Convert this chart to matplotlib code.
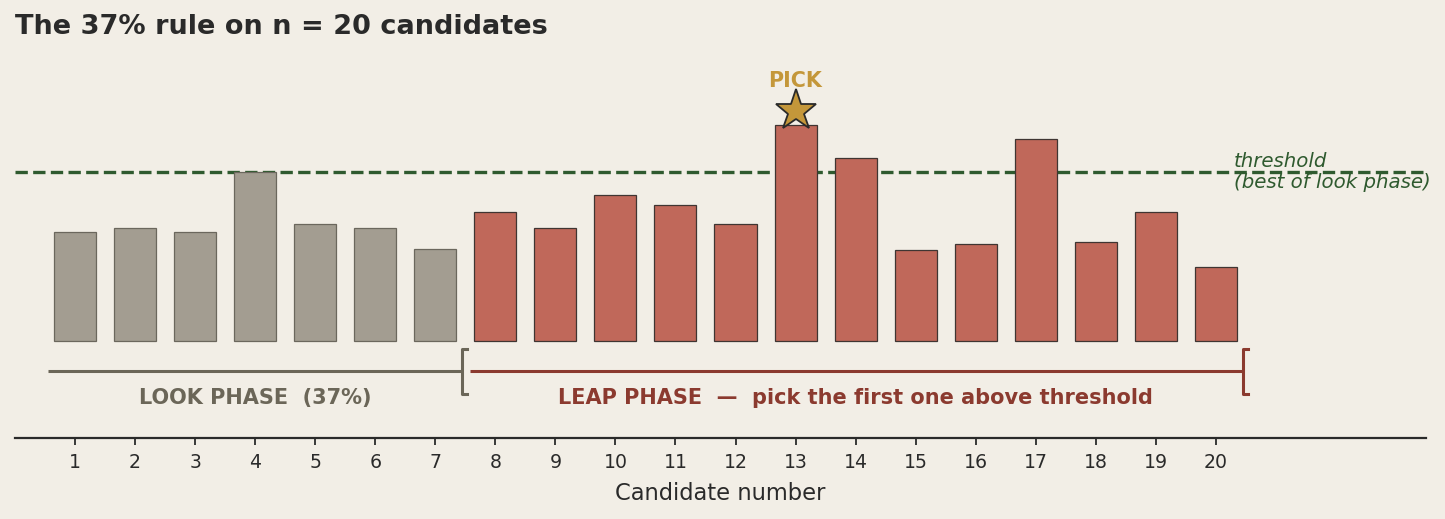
import numpy as np
import matplotlib
matplotlib.use('Agg')
import matplotlib.pyplot as plt

### Data
candidates = list(range(1, 21))
scores = [5.45, 5.65, 5.45, 8.45, 5.85, 5.65, 4.6, 6.45, 5.65, 7.3,
          6.8, 5.85, 10.8, 9.15, 4.55, 4.85, 10.1, 4.95, 6.45, 3.7]
n_look = 7
pick = 13
threshold = max(scores[:n_look])

bg = '#f2eee6'
look_col = '#a39d91'
look_edge = '#6b675d'
leap_col = '#c0685a'
leap_edge = '#3f3532'
look_txt = '#6b6658'
leap_txt = '#8b3a2f'
green = '#2f5a2f'
gold = '#c4973a'

fig = plt.figure(figsize=(14.45, 5.19), dpi=100, facecolor=bg)
ax = fig.add_axes([15/1445, 81/519, 1411/1445, 393/519])
ax.set_facecolor(bg)

### Bars
colors = [look_col if c <= n_look else leap_col for c in candidates]
edges = [look_edge if c <= n_look else leap_edge for c in candidates]
ax.bar(candidates, scores, width=0.7, color=colors, edgecolor=edges, linewidth=0.9, zorder=3)

### Threshold
ax.axhline(threshold, color=green, linestyle='--', linewidth=2.4, zorder=2)
ax.text(20.3, threshold, 'threshold\n(best of look phase)', color=green, fontsize=14.2,
        style='italic', va='center', ha='left', linespacing=1.1)

### Pick
ax.plot(pick, scores[pick-1] + 0.7, marker='*', markersize=31, color=gold,
        markeredgecolor='#2a2a2a', markeredgewidth=1.3, zorder=5, clip_on=False)
ax.text(pick, 13.0, 'PICK', color=gold, fontsize=14.9, fontweight='bold', ha='center', va='center')

### Phase brackets
yb = -1.5
ax.plot([0.55, 7.44], [yb, yb], color=look_txt, linewidth=2.2, solid_capstyle='butt')
ax.plot([7.53, 7.44, 7.44, 7.53], [-0.4, -0.4, -2.65, -2.65], color=look_txt, linewidth=2.2)
ax.plot([7.57, 20.45], [yb, yb], color=leap_txt, linewidth=2.2, solid_capstyle='butt')
ax.plot([20.53, 20.45, 20.45, 20.53], [-0.4, -0.4, -2.65, -2.65], color=leap_txt, linewidth=2.2)
ax.text(4.0, -2.85, 'LOOK PHASE  (37%)', color=look_txt, fontsize=15, fontweight='bold',
        ha='center', va='center')
ax.text(14.0, -2.85, 'LEAP PHASE  \u2014  pick the first one above threshold', color=leap_txt,
        fontsize=15, fontweight='bold', ha='center', va='center')

### Axes
ax.set_xlim(0, 23.5)
ax.set_ylim(-4.85, 14.8)
ax.set_xticks(candidates)
ax.set_xticklabels([str(c) for c in candidates], fontsize=13.6, color='#2a2a2a')
ax.set_yticks([])
for s in ['top', 'right', 'left']:
    ax.spines[s].set_visible(False)
ax.spines['bottom'].set_color('#2a2a2a')
ax.spines['bottom'].set_linewidth(1.6)
ax.tick_params(axis='x', length=5, width=1.3, color='#2a2a2a', pad=6)
ax.set_xlabel('Candidate number', fontsize=16.3, color='#2a2a2a', labelpad=7)

fig.text(15/1445, 1 - 27/519, 'The 37% rule on n = 20 candidates', fontsize=19.5, fontweight='bold',
         color='#2a2a2a', ha='left', va='center')

plt.savefig('out.png', dpi=100, facecolor=bg)
